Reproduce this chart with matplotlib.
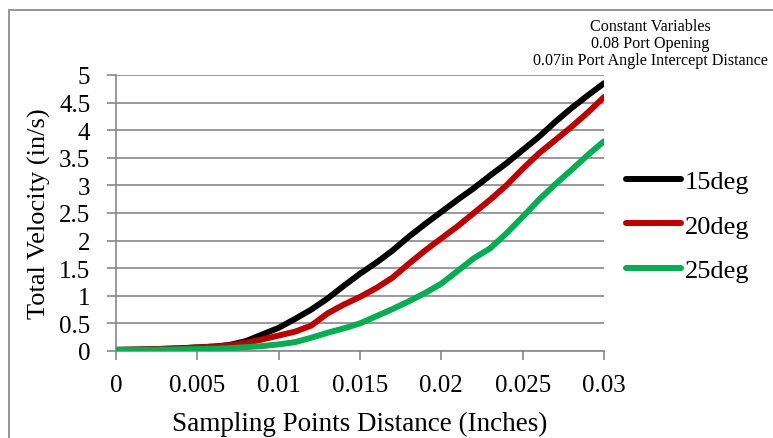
import matplotlib
matplotlib.use("Agg")
import matplotlib.pyplot as plt
from matplotlib.patches import Rectangle

# Sampling distance (inches)
distance = [0.000, 0.002, 0.004, 0.006, 0.007, 0.008, 0.009, 0.010, 0.011,
            0.012, 0.013, 0.014, 0.015, 0.016, 0.017, 0.018, 0.019, 0.020,
            0.021, 0.022, 0.023, 0.024, 0.025, 0.026, 0.027, 0.028, 0.029,
            0.030]

# Total velocity (in/s) for each port angle
vel_15deg = [0.02, 0.03, 0.05, 0.08, 0.11, 0.18, 0.30, 0.42, 0.58,
             0.75, 0.95, 1.18, 1.40, 1.60, 1.82, 2.07, 2.30, 2.52,
             2.74, 2.95, 3.18, 3.40, 3.64, 3.88, 4.15, 4.40, 4.63,
             4.85]
vel_20deg = [0.02, 0.03, 0.05, 0.08, 0.10, 0.15, 0.21, 0.28, 0.35,
             0.46, 0.68, 0.84, 0.98, 1.14, 1.33, 1.58, 1.82, 2.04,
             2.26, 2.50, 2.74, 3.00, 3.30, 3.58, 3.82, 4.06, 4.32,
             4.60]
vel_25deg = [0.02, 0.02, 0.03, 0.04, 0.05, 0.07, 0.09, 0.12, 0.16,
             0.24, 0.33, 0.41, 0.50, 0.63, 0.76, 0.90, 1.05, 1.22,
             1.45, 1.68, 1.86, 2.13, 2.43, 2.74, 3.02, 3.28, 3.55,
             3.80]

series_labels = ["15deg", "20deg", "25deg"]
series_colors = ["#000000", "#C00000", "#00B050"]

x_ticks = [0, 0.005, 0.01, 0.015, 0.02, 0.025, 0.03]
x_tick_labels = ["0", "0.005", "0.01", "0.015", "0.02", "0.025", "0.03"]
y_ticks = [0, 0.5, 1, 1.5, 2, 2.5, 3, 3.5, 4, 4.5, 5]
y_tick_labels = ["0", "0.5", "1", "1.5", "2", "2.5", "3", "3.5", "4", "4.5", "5"]

note_lines = ["Constant Variables",
              "0.08 Port Opening",
              "0.07in Port Angle Intercept Distance"]

plt.rcParams["font.family"] = ["Liberation Serif", "DejaVu Serif"]

W, H = 773, 439
fig = plt.figure(figsize=(W / 100, H / 100), dpi=100)
fig.patch.set_facecolor("white")

# outer chart border (only top and left edges fall inside the image)
fig.add_artist(Rectangle((9 / W, -0.2), 1.2, 1 - 11 / H + 0.2,
                         transform=fig.transFigure, fill=False,
                         edgecolor="#8c8c8c", linewidth=1.3))

ax = fig.add_axes([116 / W, 1 - 352 / H, (604 - 116) / W, (352 - 76) / H])

grid_color = "#888888"
for yv in y_ticks:
    ax.axhline(yv, color=grid_color, linewidth=1.2, zorder=1)

for yvals, lab, col in zip([vel_15deg, vel_20deg, vel_25deg],
                           series_labels, series_colors):
    ax.plot(distance, yvals, color=col, linewidth=4.3, label=lab,
            solid_capstyle="round", solid_joinstyle="round", zorder=3)

ax.set_xlim(0, 0.03)
ax.set_ylim(0, 5)
ax.set_xticks(x_ticks)
ax.set_xticklabels(x_tick_labels)
ax.set_yticks(y_ticks)
ax.set_yticklabels(y_tick_labels)

for side in ["top", "right"]:
    ax.spines[side].set_visible(False)
for side in ["left", "bottom"]:
    ax.spines[side].set_color(grid_color)
    ax.spines[side].set_linewidth(1.2)

ax.tick_params(axis="both", colors=grid_color, labelcolor="black",
               labelsize=18, length=6.5, width=1.2, direction="out")
ax.tick_params(axis="x", pad=10)
ax.tick_params(axis="y", pad=12)

ax.set_xlabel("Sampling Points Distance (Inches)", fontsize=19.5, labelpad=11)
ax.set_ylabel("Total Velocity (in/s)", fontsize=19, labelpad=6)

leg = ax.legend(loc="center left", bbox_to_anchor=(1.023, 0.453),
                frameon=False, fontsize=19, handlelength=2.1,
                handletextpad=0.15, labelspacing=0.8, borderaxespad=0)

fig.text(650 / W, 1 - 44 / H, "\n".join(note_lines), ha="center", va="center",
         fontsize=11.6, linespacing=1.1)

fig.savefig("out.png", dpi=100, facecolor="white")
